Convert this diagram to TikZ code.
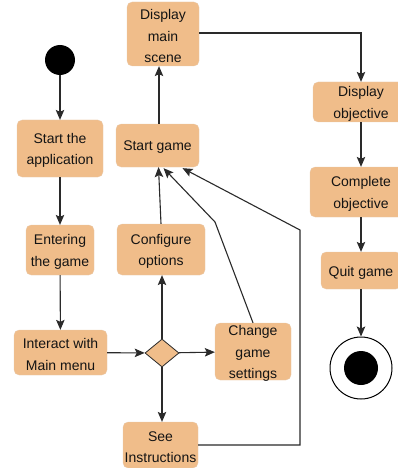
\documentclass[tikz,border=0pt]{standalone}
\usepackage{fontspec}
\setmainfont{Liberation Sans}
\usetikzlibrary{arrows.meta,shapes.geometric,calc}
\definecolor{boxfill}{HTML}{F0BD8A}
\definecolor{linec}{HTML}{2A2A2A}
\definecolor{txt}{HTML}{141414}
\tikzset{
  act/.style={rectangle, rounded corners=5pt, fill=boxfill, draw=boxfill!90!black!60, line width=0.3pt,
    inner sep=0pt},
  lbl/.style={inner sep=0pt, align=center, text=txt, font=\fontsize{14}{21.5}\selectfont},
  conn/.style={draw=linec, line width=1.1pt, -{Stealth[length=10pt,width=8.5pt,inset=2pt]}},
  dec/.style={diamond, fill=boxfill, draw=linec, line width=0.8pt, inner sep=0pt,
    minimum width=34pt, minimum height=28pt},
}
% \actbox{name}{x}{y}{w}{h}{text}
\newcommand{\actbox}[6]{%
  \node[act, minimum width=#4pt, minimum height=#5pt] (#1) at (#2,#3) {};
  \node[lbl] (#1-t) at (#2,#3+2) {#6};}
\begin{document}
\begin{tikzpicture}[x=1pt,y=-1pt]
\useasboundingbox (0,0) rectangle (398,468);
\clip (0,0) rectangle (398,468);
% initial and final
\node[circle, fill=black, minimum size=30pt, inner sep=0pt] (start) at (60,60) {};
\node[circle, draw=black, line width=1pt, fill=white, minimum size=62pt, inner sep=0pt] (end) at (361,368) {};
\node[circle, fill=black, minimum size=34pt, inner sep=0pt] (endin) at (361,368) {};
% activities
\actbox{app}{60}{148.5}{86}{57}{Start the\\application}
\actbox{enter}{60}{250}{68}{50}{Entering\\the game}
\actbox{menu}{60.5}{352.5}{93}{45}{Interact with\\Main menu}
\node[dec] (dec) at (162,353) {};
\actbox{conf}{161}{249.5}{88}{51}{Configure\\options}
\actbox{change}{253}{351.5}{76}{57}{Change\\game\\settings}
\actbox{instr}{160.5}{445}{75}{46}{See\\Instructions}
\actbox{sgame}{157.5}{145.5}{83}{43}{Start game}
\actbox{scene}{163}{34}{72}{64}{Display\\main\\scene}
\actbox{obj}{361}{102}{96}{40}{Display\\objective}
\actbox{comp}{361}{192}{102}{50}{Complete\\objective}
\actbox{quit}{361}{270.5}{80}{37}{Quit game}
% bend points
\coordinate (b1) at (215,222);
\coordinate (b2) at (300,445);
\coordinate (b3) at (300,230);
\coordinate (b4) at (361,33);
% connectors
\draw[conn] (start) -- (app);
\draw[conn] (app) -- (enter);
\draw[conn] (enter) -- (menu);
\draw[conn] (menu) -- (dec);
\draw[conn] (dec) -- (conf.south -| dec);
\draw[conn] (dec) -- (change);
\draw[conn] (dec) -- (instr.north -| dec);
\draw[conn] (conf.north) -- ($(sgame.south)+(1,0)$);
\draw[conn] (change.north) -- (b1) -- ($(sgame.south)+(6,1)$);
\draw[conn] (instr.east |- b2) -- (b2) -- (b3) -- ($(sgame.south)+(25,1)$);
\draw[conn] (sgame.north -| 159,0) -- (scene.south -| 159,0);
\draw[conn] (scene.east |- b4) -- (b4) -- (obj.north);
\draw[conn] (obj) -- (comp);
\draw[conn] (comp) -- (quit);
\draw[conn] (quit) -- (end);
\end{tikzpicture}
\end{document}
